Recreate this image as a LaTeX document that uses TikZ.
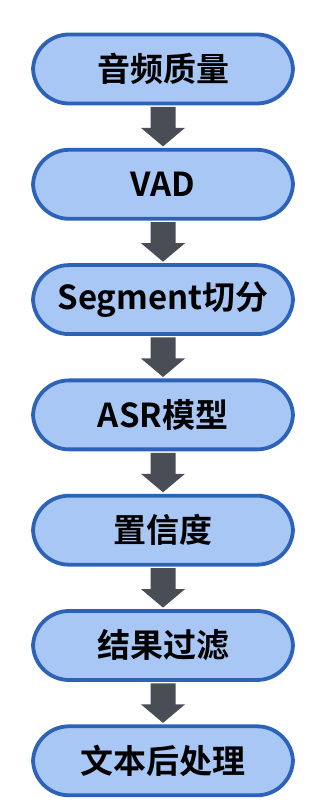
\documentclass[tikz,border=0pt]{standalone}
\usepackage{fontspec}
\setmainfont{Noto Sans CJK SC Bold}
\definecolor{boxfill}{HTML}{A8C7F5}
\definecolor{boxline}{HTML}{2C62B8}
\definecolor{arrowgray}{HTML}{484D56}
\begin{document}
\begin{tikzpicture}[x=1pt,y=1pt,
  stepbox/.style={draw=boxline, line width=3.8pt, fill=boxfill, rounded corners=36pt,
    minimum width=260pt, minimum height=69pt, inner sep=0pt,
    font=\fontsize{33}{36}\selectfont, text=black},
  flowarrow/.style={draw=none, fill=arrowgray}]
\useasboundingbox (0,0) rectangle (330,810);
\def\gap{115.3}
\foreach \i/\t in {0/音频质量,1/VAD,2/Segment切分,3/ASR模型,4/置信度,5/结果过滤,6/文本后处理}{
  \node[stepbox] (b\i) at (163, 810-69-\i*\gap) {\t};
}
\foreach \i [evaluate=\i as \j using int(\i+1)] in {0,...,5}{
  \coordinate (s\i) at (b\i.south);
  \coordinate (n\i) at (b\j.north);
  \fill[flowarrow] ([xshift=-12.5pt,yshift=-1.5pt]s\i) -- ([xshift=12.5pt,yshift=-1.5pt]s\i)
    -- ([xshift=12.5pt,yshift=20pt]n\i) -- ([xshift=22pt,yshift=20pt]n\i)
    -- ([yshift=1.5pt]n\i) -- ([xshift=-22pt,yshift=20pt]n\i)
    -- ([xshift=-12.5pt,yshift=20pt]n\i) -- cycle;
}
\end{tikzpicture}
\end{document}
